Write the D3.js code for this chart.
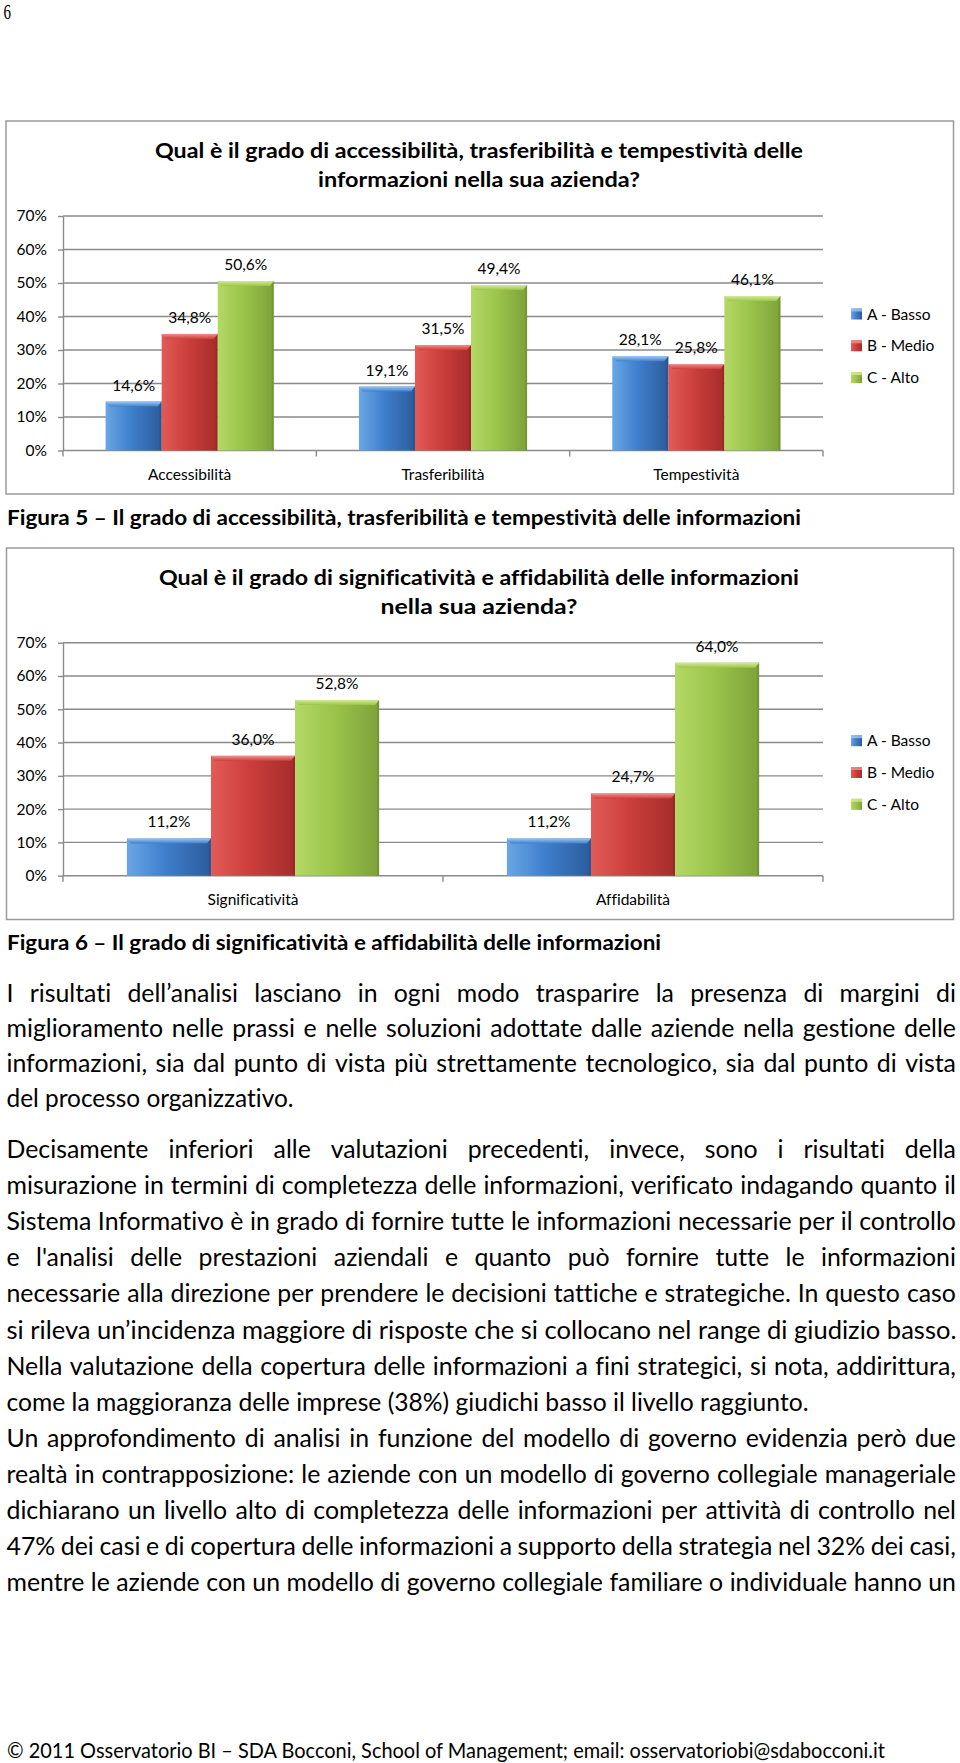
<!DOCTYPE html>
<html>
<head>
<meta charset="utf-8">
<script src="https://cdn.jsdelivr.net/npm/d3@7"></script>
<style>
  body { margin: 0; background: #fff; }
  svg { display: block; }
  text { font-family: Lato, "Open Sans", sans-serif; fill: #000;
         font-variant-ligatures: none; font-feature-settings: "liga" 0, "clig" 0, "dlig" 0; }
</style>
</head>
<body>
<svg id="page" width="960" height="1763"></svg>
<script>
// ---------------- DATA ----------------
const series = ["A - Basso", "B - Medio", "C - Alto"];
const yTicks = [0, 10, 20, 30, 40, 50, 60, 70];

const categories1 = ["Accessibilità", "Trasferibilità", "Tempestività"];
const basso1 = [14.6, 19.1, 28.1];
const medio1 = [34.8, 31.5, 25.8];
const alto1  = [50.6, 49.4, 46.1];

const categories2 = ["Significatività", "Affidabilità"];
const basso2 = [11.2, 11.2];
const medio2 = [36.0, 24.7];
const alto2  = [52.8, 64.0];

const title1 = ["Qual è il grado di accessibilità, trasferibilità e tempestività delle",
                "informazioni nella sua azienda?"];
const title2 = ["Qual è il grado di significatività e affidabilità delle informazioni",
                "nella sua azienda?"];
const caption1 = "Figura 5 – Il grado di accessibilità, trasferibilità e tempestività delle informazioni";
const caption2 = "Figura 6 – Il grado di significatività e affidabilità delle informazioni";

const paragraph1 = [
  "I risultati dell’analisi lasciano in ogni modo trasparire la presenza di margini di",
  "miglioramento nelle prassi e nelle soluzioni adottate dalle aziende nella gestione delle",
  "informazioni, sia dal punto di vista più strettamente tecnologico, sia dal punto di vista",
  "del processo organizzativo."
];
const paragraph2 = [
  "Decisamente inferiori alle valutazioni precedenti, invece, sono i risultati della",
  "misurazione in termini di completezza delle informazioni, verificato indagando quanto il",
  "Sistema Informativo è in grado di fornire tutte le informazioni necessarie per il controllo",
  "e l'analisi delle prestazioni aziendali e quanto può fornire tutte le informazioni",
  "necessarie alla direzione per prendere le decisioni tattiche e strategiche. In questo caso",
  "si rileva un’incidenza maggiore di risposte che si collocano nel range di giudizio basso.",
  "Nella valutazione della copertura delle informazioni a fini strategici, si nota, addirittura,",
  "come la maggioranza delle imprese (38%) giudichi basso il livello raggiunto.",
  "Un approfondimento di analisi in funzione del modello di governo evidenzia però due",
  "realtà in contrapposizione: le aziende con un modello di governo collegiale manageriale",
  "dichiarano un livello alto di completezza delle informazioni per attività di controllo nel",
  "47% dei casi e di copertura delle informazioni a supporto della strategia nel 32% dei casi,",
  "mentre le aziende con un modello di governo collegiale familiare o individuale hanno un"
];
const footer = "© 2011 Osservatorio BI – SDA Bocconi, School of Management; email: osservatoriobi@sdabocconi.it";
const pageNumber = "6";

// ---------------- SETUP ----------------
const svg = d3.select("#page");
svg.append("rect").attr("width", 960).attr("height", 1763).attr("fill", "#fff");
const defs = svg.append("defs");

const palette = [
  { light: "#6aa6e6", mid: "#3f7fcc", dark: "#2b5c9c", top: "#9cc8f2", edge: "#24508a" },
  { light: "#e25b57", mid: "#cc3f3c", dark: "#a52c2a", top: "#f0908c", edge: "#8f2422" },
  { light: "#b4d865", mid: "#9bc54b", dark: "#7da23a", top: "#d4eb98", edge: "#6b8c30" }
];
palette.forEach((c, i) => {
  const lg = defs.append("linearGradient").attr("id", "body" + i)
    .attr("x1", 0).attr("x2", 1).attr("y1", 0).attr("y2", 0);
  lg.append("stop").attr("offset", 0).attr("stop-color", c.light);
  lg.append("stop").attr("offset", 0.45).attr("stop-color", c.mid);
  lg.append("stop").attr("offset", 1).attr("stop-color", c.dark);
  const tg = defs.append("linearGradient").attr("id", "top" + i)
    .attr("x1", 0).attr("x2", 0).attr("y1", 0).attr("y2", 1);
  tg.append("stop").attr("offset", 0).attr("stop-color", c.top);
  tg.append("stop").attr("offset", 1).attr("stop-color", c.mid);
});

const fmt = v => d3.format(".1f")(v).replace(".", ",") + "%";

function fitted(g, str, x, y, width, size, weight, anchor) {
  return g.append("text")
    .attr("x", x).attr("y", y)
    .attr("font-size", size)
    .attr("font-weight", weight || "normal")
    .attr("text-anchor", anchor || "start")
    .attr("textLength", width)
    .attr("lengthAdjust", "spacingAndGlyphs")
    .text(str);
}

const CF = 15.5; // chart font size

// ---------------- CHART ----------------
function drawChart(cfg) {
  const g = svg.append("g");
  g.append("rect")
    .attr("x", cfg.frame[0]).attr("y", cfg.frame[1])
    .attr("width", cfg.frame[2] - cfg.frame[0]).attr("height", cfg.frame[3] - cfg.frame[1])
    .attr("fill", "#fff").attr("stroke", "#9a9a9a").attr("stroke-width", 1.5);

  cfg.title.forEach((line, i) => {
    fitted(g, line, 479, cfg.titleY[i], cfg.titleW[i], 21.5, "bold", "middle");
  });

  const left = 63, right = 823;
  const x0 = d3.scaleBand().domain(cfg.categories).range([left, right]);
  const x1 = d3.scaleBand().domain(series).range([0, x0.bandwidth()]).paddingOuter(0.76);
  const y = d3.scaleLinear().domain([0, 70]).range([cfg.y0, cfg.y70]);

  g.append("g").selectAll("line").data(yTicks).join("line")
    .attr("x1", left).attr("x2", right)
    .attr("y1", d => y(d)).attr("y2", d => y(d))
    .attr("stroke", "#8a8a8a").attr("stroke-width", 1.4);

  const ax = g.append("g").attr("transform", `translate(${left},0)`)
    .call(d3.axisLeft(y).tickValues(yTicks).tickFormat(d => d + "%")
      .tickSize(5).tickSizeOuter(0).tickPadding(11));
  ax.attr("font-size", CF).attr("font-family", "Lato, 'Open Sans', sans-serif");
  ax.select(".domain").attr("stroke", "#8a8a8a").attr("stroke-width", 1.4);
  ax.selectAll(".tick line").attr("stroke", "#8a8a8a").attr("stroke-width", 1.4);
  ax.selectAll(".tick text").attr("fill", "#000");

  const bounds = [left].concat(cfg.categories.map(c => x0(c) + x0.bandwidth()));
  g.append("g").selectAll("line").data(bounds).join("line")
    .attr("x1", d => d).attr("x2", d => d)
    .attr("y1", y(0)).attr("y2", y(0) + 6)
    .attr("stroke", "#8a8a8a").attr("stroke-width", 1.4);

  const rows = cfg.categories.flatMap((c, ci) =>
    series.map((s, si) => ({ cat: c, s, si, v: cfg.values[si][ci] })));
  const bars = g.append("g").selectAll("g").data(rows).join("g");
  const bw = x1.bandwidth();
  bars.append("rect")
    .attr("x", d => x0(d.cat) + x1(d.s)).attr("y", d => y(d.v))
    .attr("width", bw).attr("height", d => y(0) - y(d.v))
    .attr("fill", d => `url(#body${d.si})`);
  bars.append("rect")
    .attr("x", d => x0(d.cat) + x1(d.s) + bw - 2).attr("y", d => y(d.v))
    .attr("width", 2).attr("height", d => y(0) - y(d.v))
    .attr("fill", d => palette[d.si].edge).attr("opacity", 0.55);
  bars.append("polygon")
    .attr("points", d => {
      const bx = x0(d.cat) + x1(d.s), by = y(d.v);
      return [[bx, by], [bx + bw, by], [bx + bw - 4, by + 5], [bx + 4, by + 5]].map(p => p.join(",")).join(" ");
    })
    .attr("fill", d => `url(#top${d.si})`);
  bars.append("text")
    .attr("x", d => x0(d.cat) + x1(d.s) + bw / 2)
    .attr("y", d => y(d.v) - 11)
    .attr("text-anchor", "middle").attr("font-size", CF)
    .text(d => fmt(d.v));

  g.append("g").selectAll("text").data(cfg.categories).join("text")
    .attr("x", d => x0(d) + x0.bandwidth() / 2)
    .attr("y", y(0) + 29.5)
    .attr("text-anchor", "middle").attr("font-size", CF)
    .text(d => d);

  const lg = g.append("g").selectAll("g").data(series).join("g")
    .attr("transform", (d, i) => `translate(851,${cfg.legendY + i * 31.8})`);
  lg.append("rect").attr("x", 0).attr("y", -5.5).attr("width", 11).attr("height", 11)
    .attr("fill", (d, i) => `url(#body${i})`);
  lg.append("rect").attr("x", 0).attr("y", -5.5).attr("width", 11).attr("height", 3)
    .attr("fill", (d, i) => palette[i].top).attr("opacity", 0.8);
  lg.append("text").attr("x", 16).attr("y", 5.5).attr("font-size", CF).text(d => d);
}

drawChart({
  categories: categories1, values: [basso1, medio1, alto1],
  title: title1, titleY: [158, 186.5], titleW: [648, 322],
  frame: [6, 121, 953.5, 494], y0: 450.5, y70: 216, legendY: 314
});
drawChart({
  categories: categories2, values: [basso2, medio2, alto2],
  title: title2, titleY: [585, 613.5], titleW: [640, 197],
  frame: [6.5, 548, 953.5, 919.5], y0: 875.7, y70: 642.7, legendY: 740.7
});

fitted(svg, caption1, 7, 525, 794, 21.5, "bold");
fitted(svg, caption2, 7, 950, 654, 21.5, "bold");

// page number
svg.append("text")
  .attr("transform", "translate(3.5,19) scale(0.75,1)")
  .attr("font-size", 20)
  .style("font-family", "'Liberation Serif', 'DejaVu Serif', serif")
  .text(pageNumber);

// ---------------- BODY TEXT ----------------
const FS = 24.5;
const X0 = 6.5, X1 = 956;
const tmp = svg.append("text").attr("font-size", FS).attr("x", -9999).attr("y", -9999);
const measure = s => { tmp.text(s); return tmp.node().getComputedTextLength(); };
const spaceW = measure("a a") - measure("aa");

const calib = [
  [paragraph1[3], 287],
  [paragraph2[5], 950],
  [paragraph2[7], 802]
];
const S = d3.mean(calib, d => d[1] / measure(d[0]));

function drawLine(str, y, mode, target) {
  const words = str.split(" ");
  const widths = words.map(measure);
  const sum = d3.sum(widths);
  const natural = sum + spaceW * (words.length - 1);
  let s = S;
  let gap = spaceW;
  if (mode === "J") {
    const avail = (X1 - X0) / s;
    gap = (avail - sum) / (words.length - 1);
    if (gap < spaceW * 0.8) { gap = spaceW * 0.8; s = (X1 - X0) / (sum + gap * (words.length - 1)); }
  } else {
    s = target / natural;
  }
  const t = svg.append("text").attr("font-size", FS)
    .attr("transform", `translate(${X0},${y}) scale(${s},1)`);
  let x = 0;
  words.forEach((w, i) => {
    t.append("tspan").attr("x", x).attr("y", 0).text(w);
    x += widths[i] + gap;
  });
}

paragraph1.forEach((line, i) => {
  const y = 1001.7 + i * 35.2;
  if (i === 3) drawLine(line, y, "L", 287); else drawLine(line, y, "J");
});
paragraph2.forEach((line, i) => {
  const y = 1158 + i * 36.1;
  if (i === 5) drawLine(line, y, "L", 950);
  else if (i === 7) drawLine(line, y, "L", 802);
  else drawLine(line, y, "J");
});
tmp.remove();

fitted(svg, footer, 7, 1758, 878, 20.5, "normal");
</script>
</body>
</html>
